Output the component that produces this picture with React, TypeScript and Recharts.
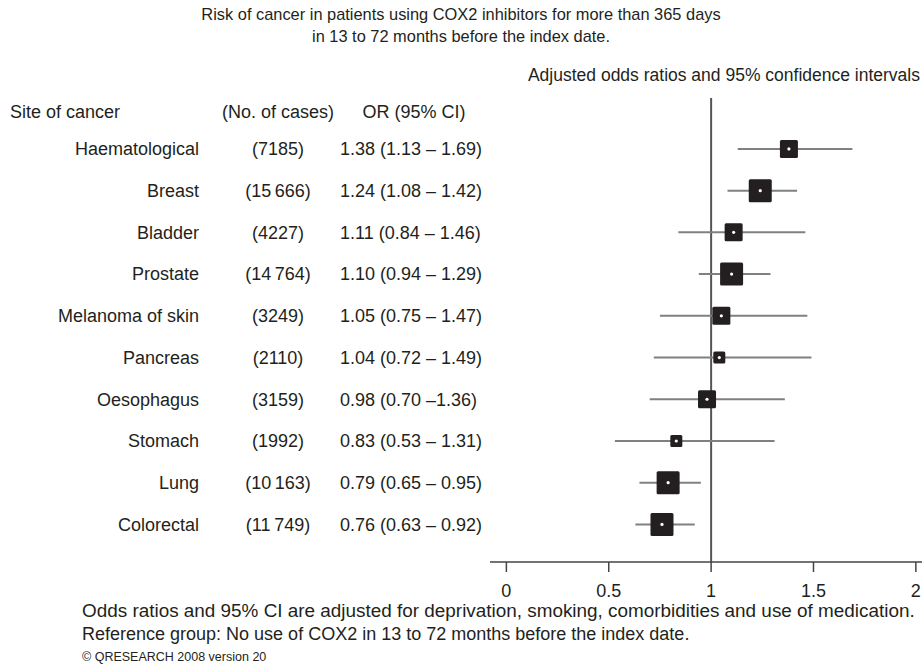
import { ErrorBar, ReferenceLine, Scatter, ScatterChart, XAxis, YAxis } from "recharts";

const sites = [
  "Haematological",
  "Breast",
  "Bladder",
  "Prostate",
  "Melanoma of skin",
  "Pancreas",
  "Oesophagus",
  "Stomach",
  "Lung",
  "Colorectal"
];
const cases = [7185, 15666, 4227, 14764, 3249, 2110, 3159, 1992, 10163, 11749];
const caseLabels = [
  "(7185)",
  "(15\u2009666)",
  "(4227)",
  "(14\u2009764)",
  "(3249)",
  "(2110)",
  "(3159)",
  "(1992)",
  "(10\u2009163)",
  "(11\u2009749)"
];
const oddsRatio = [1.38, 1.24, 1.11, 1.1, 1.05, 1.04, 0.98, 0.83, 0.79, 0.76];
const ciLow = [1.13, 1.08, 0.84, 0.94, 0.75, 0.72, 0.7, 0.53, 0.65, 0.63];
const ciHigh = [1.69, 1.42, 1.46, 1.29, 1.47, 1.49, 1.36, 1.31, 0.95, 0.92];
const orLabels = [
  "1.38 (1.13 – 1.69)",
  "1.24 (1.08 – 1.42)",
  "1.11 (0.84 – 1.46)",
  "1.10 (0.94 – 1.29)",
  "1.05 (0.75 – 1.47)",
  "1.04 (0.72 – 1.49)",
  "0.98 (0.70 –1.36)",
  "0.83 (0.53 – 1.31)",
  "0.79 (0.65 – 0.95)",
  "0.76 (0.63 – 0.92)"
];
const xTicks = [0, 0.5, 1, 1.5, 2];

const rows = sites.map((name, i) => ({
  row: i,
  name,
  cases: cases[i],
  or: oddsRatio[i],
  err: [oddsRatio[i] - ciLow[i], ciHigh[i] - oddsRatio[i]]
}));

const FONT = "'Liberation Sans', Arial, Helvetica, sans-serif";
const INK = "#231f20";

// box size is binned on number of cases
function boxSize(n: number) {
  if (n < 2500) return 12;
  if (n < 10000) return 18;
  return 23;
}

function Box(props: any) {
  const { cx, cy, payload } = props;
  if (cx == null || cy == null) return null;
  const s = boxSize(payload.cases);
  return (
    <g>
      <rect x={cx - s / 2} y={cy - s / 2} width={s} height={s} rx={1.5} fill={INK} />
      <circle cx={cx} cy={cy} r={1.6} fill="#fff" />
    </g>
  );
}

function RowTick(props: any) {
  const { y, payload } = props;
  const i = payload.value;
  if (i < 0 || i >= sites.length) return null;
  return (
    <g fontFamily={FONT} fontSize={18} fill={INK}>
      <text x={199} y={y} dy="0.35em" textAnchor="end">
        {sites[i]}
      </text>
      <text x={278} y={y} dy="0.35em" textAnchor="middle">
        {caseLabels[i]}
      </text>
      <text x={340} y={y} dy="0.35em" textAnchor="start">
        {orLabels[i]}
      </text>
    </g>
  );
}

export default function App() {
  return (
    <div style={{ position: "absolute", left: 0, top: 0, width: 922, height: 668, background: "#fff" }}>
      <ScatterChart width={922} height={668} margin={{ top: 98, right: 0, bottom: 66, left: 0 }}>
        <XAxis
          type="number"
          dataKey="or"
          domain={[-0.08, 2.03]}
          ticks={xTicks}
          allowDataOverflow
          height={40}
          tickSize={10}
          tickMargin={12}
          axisLine={{ stroke: "#444", strokeWidth: 1.5 }}
          tickLine={{ stroke: "#444", strokeWidth: 1.5 }}
          tick={{ fill: INK, fontSize: 18, fontFamily: FONT }}
        />
        <YAxis
          type="number"
          dataKey="row"
          domain={[-1.22, 9.9]}
          ticks={rows.map((r) => r.row)}
          interval={0}
          reversed
          allowDataOverflow
          width={490}
          axisLine={false}
          tickLine={false}
          tick={<RowTick />}
        />
        <ReferenceLine x={1} stroke="#555" strokeWidth={2} />
        <Scatter data={rows} shape={<Box />} isAnimationActive={false}>
          <ErrorBar dataKey="err" direction="x" width={0} stroke="#808080" strokeWidth={2} />
        </Scatter>
      </ScatterChart>
      <svg
        width={922}
        height={668}
        style={{ position: "absolute", left: 0, top: 0, pointerEvents: "none" }}
        fontFamily={FONT}
        fill={INK}
      >
        <text x={461} y={20} fontSize={16.4} textAnchor="middle">
          Risk of cancer in patients using COX2 inhibitors for more than 365 days
        </text>
        <text x={461} y={42} fontSize={16.4} textAnchor="middle">
          in 13 to 72 months before the index date.
        </text>
        <text x={920} y={81} fontSize={17.5} textAnchor="end">
          Adjusted odds ratios and 95% confidence intervals
        </text>
        <text x={10} y={118} fontSize={18}>
          Site of cancer
        </text>
        <text x={278} y={118} fontSize={18} textAnchor="middle">
          (No. of cases)
        </text>
        <text x={414} y={118} fontSize={18} textAnchor="middle">
          OR (95% CI)
        </text>
        <text x={82} y={617} fontSize={18.9}>
          Odds ratios and 95% CI are adjusted for deprivation, smoking, comorbidities and use of medication.
        </text>
        <text x={82} y={640} fontSize={18}>
          Reference group: No use of COX2 in 13 to 72 months before the index date.
        </text>
        <text x={82} y={661} fontSize={12.5}>
          © QRESEARCH 2008 version 20
        </text>
      </svg>
    </div>
  );
}
